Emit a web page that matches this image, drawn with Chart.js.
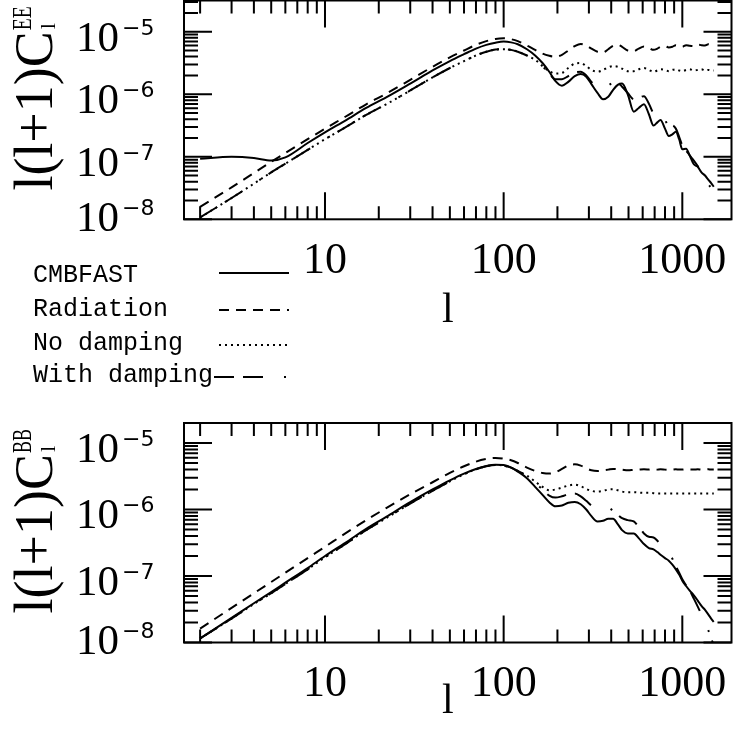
<!DOCTYPE html>
<html><head><meta charset="utf-8">
<script src="https://cdn.jsdelivr.net/npm/chart.js@4.4.0/dist/chart.umd.min.js"></script>
<style>
html,body{margin:0;padding:0;background:#fff;}
#wrap{position:relative;width:734px;height:730px;background:#fff;overflow:hidden;}
canvas{position:absolute;left:0;}
#cEE{top:0;} #cBB{top:420px;}
</style></head><body>
<div id="wrap"><canvas id="cEE" width="734" height="420"></canvas><canvas id="cBB" width="734" height="310"></canvas></div>
<script>
// ---------------- data ----------------
const ell = [2,3,4,5,6,8,10,13,17,22,30,40,50,60,70,80,90,100,110,120,135,150,165,180,195,212,230,250,270,290,310,335,360,385,410,435,460,495,535,570,610,650,690,725,755,800,840,880,920,960,1000,1050,1100,1160,1220,1280,1340,1400,1450,1500];

const seriesNames = ['CMBFAST','Radiation','No damping','With damping'];

const eeCMBFAST = [9.33e-8,1.00e-7,9.55e-8,8.71e-8,9.77e-8,1.66e-7,2.46e-7,3.80e-7,6.03e-7,8.91e-7,
 1.48e-6,2.40e-6,3.39e-6,4.37e-6,5.37e-6,6.17e-6,6.68e-6,6.95e-6,6.76e-6,6.31e-6,
 5.25e-6,4.17e-6,3.16e-6,2.29e-6,1.62e-6,1.37e-6,1.58e-6,1.95e-6,2.11e-6,1.91e-6,
 1.45e-6,1.05e-6,8.32e-7,9.12e-7,1.18e-6,1.41e-6,1.48e-6,1.00e-6,5.25e-7,6.03e-7,
 6.92e-7,4.79e-7,3.16e-7,3.55e-7,3.89e-7,2.82e-7,2.14e-7,2.29e-7,2.51e-7,1.91e-7,
 1.32e-7,1.35e-7,1.05e-7,7.59e-8,6.92e-8,5.62e-8,5.01e-8,4.27e-8,3.80e-8,3.31e-8];

const eeRadiation = [1.58e-8,3.24e-8,5.50e-8,8.32e-8,1.15e-7,1.91e-7,2.82e-7,4.37e-7,6.92e-7,1.02e-6,
 1.70e-6,2.75e-6,3.89e-6,5.01e-6,6.17e-6,7.08e-6,7.67e-6,7.85e-6,7.59e-6,7.08e-6,
 6.03e-6,5.13e-6,4.47e-6,4.12e-6,3.98e-6,4.27e-6,5.01e-6,5.89e-6,6.38e-6,6.03e-6,
 5.37e-6,4.79e-6,4.68e-6,5.25e-6,5.96e-6,6.17e-6,5.75e-6,5.01e-6,4.90e-6,5.37e-6,
 5.82e-6,5.50e-6,5.13e-6,5.37e-6,5.75e-6,5.89e-6,5.62e-6,5.75e-6,6.10e-6,5.82e-6,
 5.75e-6,6.10e-6,5.96e-6,5.89e-6,6.24e-6,6.10e-6,6.03e-6,6.31e-6,6.17e-6,6.24e-6];

const eeNoDamping = [1.07e-8,2.19e-8,3.72e-8,5.62e-8,7.76e-8,1.29e-7,1.91e-7,2.95e-7,4.68e-7,6.92e-7,
 1.15e-6,1.86e-6,2.63e-6,3.39e-6,4.17e-6,4.79e-6,5.19e-6,5.25e-6,5.13e-6,4.79e-6,
 4.17e-6,3.55e-6,2.82e-6,2.34e-6,2.14e-6,2.19e-6,2.63e-6,3.09e-6,3.16e-6,2.82e-6,
 2.45e-6,2.29e-6,2.45e-6,2.69e-6,2.82e-6,2.75e-6,2.57e-6,2.34e-6,2.34e-6,2.51e-6,
 2.63e-6,2.45e-6,2.29e-6,2.40e-6,2.51e-6,2.45e-6,2.34e-6,2.45e-6,2.51e-6,2.40e-6,
 2.34e-6,2.45e-6,2.51e-6,2.40e-6,2.45e-6,2.51e-6,2.40e-6,2.45e-6,2.40e-6,2.40e-6];

const eeWithDamping = [1.07e-8,2.19e-8,3.72e-8,5.62e-8,7.76e-8,1.29e-7,1.91e-7,2.95e-7,4.68e-7,6.92e-7,
 1.15e-6,1.86e-6,2.63e-6,3.39e-6,4.17e-6,4.79e-6,5.19e-6,5.25e-6,5.13e-6,4.79e-6,
 4.17e-6,3.55e-6,2.82e-6,2.14e-6,1.74e-6,1.74e-6,1.95e-6,2.24e-6,2.29e-6,2.00e-6,
 1.58e-6,1.26e-6,1.20e-6,1.38e-6,1.51e-6,1.51e-6,1.32e-6,1.05e-6,8.32e-7,8.71e-7,
 9.33e-7,7.08e-7,5.13e-7,5.25e-7,5.50e-7,3.98e-7,3.02e-7,3.16e-7,2.82e-7,2.09e-7,
 1.51e-7,1.26e-7,1.05e-7,8.71e-8,7.08e-8,5.62e-8,4.47e-8,3.63e-8,3.16e-8,2.69e-8];

const bbCMBFAST = [1.15e-8,2.34e-8,3.89e-8,5.75e-8,7.94e-8,1.32e-7,2.00e-7,3.16e-7,5.13e-7,7.76e-7,
 1.29e-6,2.00e-6,2.75e-6,3.47e-6,4.07e-6,4.52e-6,4.73e-6,4.68e-6,4.27e-6,3.72e-6,
 2.95e-6,2.19e-6,1.66e-6,1.29e-6,1.12e-6,1.15e-6,1.26e-6,1.30e-6,1.20e-6,1.00e-6,
 7.94e-7,6.61e-7,6.76e-7,7.24e-7,7.24e-7,6.03e-7,4.90e-7,4.37e-7,4.37e-7,3.72e-7,
 3.02e-7,2.63e-7,2.51e-7,2.29e-7,2.09e-7,1.86e-7,1.70e-7,1.48e-7,1.26e-7,1.05e-7,
 8.51e-8,7.08e-8,6.03e-8,5.13e-8,4.27e-8,3.55e-8,3.09e-8,2.63e-8,2.29e-8,2.04e-8];

const bbRadiation = [1.62e-8,3.31e-8,5.50e-8,8.13e-8,1.12e-7,1.86e-7,2.75e-7,4.37e-7,6.92e-7,1.05e-6,
 1.70e-6,2.57e-6,3.55e-6,4.47e-6,5.25e-6,5.75e-6,5.96e-6,5.82e-6,5.50e-6,5.01e-6,
 4.27e-6,3.80e-6,3.55e-6,3.47e-6,3.63e-6,4.07e-6,4.57e-6,4.79e-6,4.57e-6,4.17e-6,
 3.89e-6,3.80e-6,3.89e-6,3.98e-6,4.07e-6,4.03e-6,3.98e-6,3.89e-6,3.94e-6,3.98e-6,
 4.03e-6,3.98e-6,3.94e-6,3.98e-6,4.03e-6,3.98e-6,3.94e-6,3.98e-6,4.03e-6,3.98e-6,
 3.98e-6,4.03e-6,3.98e-6,3.98e-6,4.03e-6,3.98e-6,3.98e-6,4.03e-6,3.98e-6,3.98e-6];

const bbNoDamping = [1.15e-8,2.29e-8,3.80e-8,5.50e-8,7.59e-8,1.26e-7,1.91e-7,3.02e-7,4.90e-7,7.41e-7,
 1.23e-6,1.91e-6,2.66e-6,3.39e-6,4.03e-6,4.47e-6,4.68e-6,4.57e-6,4.27e-6,3.80e-6,
 3.24e-6,2.63e-6,2.19e-6,1.95e-6,2.00e-6,2.14e-6,2.29e-6,2.37e-6,2.24e-6,2.04e-6,
 1.91e-6,1.86e-6,1.91e-6,2.00e-6,2.02e-6,1.95e-6,1.86e-6,1.82e-6,1.82e-6,1.80e-6,
 1.78e-6,1.78e-6,1.76e-6,1.74e-6,1.74e-6,1.74e-6,1.74e-6,1.74e-6,1.74e-6,1.74e-6,
 1.74e-6,1.74e-6,1.74e-6,1.74e-6,1.74e-6,1.74e-6,1.74e-6,1.74e-6,1.74e-6,1.74e-6];

const bbWithDamping = [1.15e-8,2.29e-8,3.80e-8,5.50e-8,7.59e-8,1.26e-7,1.91e-7,3.02e-7,4.90e-7,7.41e-7,
 1.23e-6,1.91e-6,2.66e-6,3.39e-6,4.03e-6,4.47e-6,4.68e-6,4.57e-6,4.27e-6,3.80e-6,
 3.16e-6,2.51e-6,2.00e-6,1.62e-6,1.51e-6,1.58e-6,1.70e-6,1.74e-6,1.58e-6,1.35e-6,
 1.15e-6,1.02e-6,1.02e-6,1.05e-6,9.55e-7,8.32e-7,7.41e-7,6.92e-7,6.61e-7,5.50e-7,
 4.37e-7,3.89e-7,3.80e-7,3.39e-7,2.95e-7,2.51e-7,2.19e-7,1.82e-7,1.41e-7,1.12e-7,
 8.91e-8,7.24e-8,6.03e-8,4.57e-8,3.47e-8,2.63e-8,2.00e-8,1.51e-8,1.17e-8,8.91e-9];

const lRange = [1.625, 1885];
const eeRange = [1e-8, 3.16e-5];
const bbRange = [1e-8, 2e-5];
const xTickValues = [10, 100, 1000];
const xTickLabels = ['10', '100', '1000'];
const yTickExponents = [-8, -7, -6, -5];
const xTitle = 'l';
const eeYTitle = { main: 'l(l+1)C', sub: 'l', sup: 'EE' };
const bbYTitle = { main: 'l(l+1)C', sub: 'l', sup: 'BB' };

// ---------------- styles ----------------
const dashes = [[], [10, 7], [2, 4], [20, 9, 20, 21, 2, 9]];
const SERIF = '"Liberation Serif", "DejaVu Serif", serif';

function makeDatasets(list) {
  return list.map((arr, i) => ({
    label: seriesNames[i],
    data: ell.map((l, k) => ({ x: l, y: arr[k] })),
    borderColor: '#000',
    backgroundColor: '#000',
    borderWidth: 2,
    borderDash: dashes[i],
    pointRadius: 0,
    fill: false,
    cubicInterpolationMode: 'monotone'
  }));
}

const framePlugin = {
  id: 'frame',
  afterDatasetsDraw(chart, args, o) {
    const ctx = chart.ctx, a = chart.chartArea, xs = chart.scales.x, ys = chart.scales.y;
    ctx.save();
    ctx.strokeStyle = '#000'; ctx.fillStyle = '#000';
    ctx.lineWidth = 2; ctx.setLineDash([]); ctx.lineCap = 'butt';
    ctx.beginPath();
    for (let d = 1; d <= 1000; d *= 10) {
      for (let m = 1; m <= 9; m++) {
        const v = m * d;
        if (v < xs.min || v > xs.max) continue;
        const px = xs.getPixelForValue(v);
        const len = m === 1 ? 27 : 13;
        ctx.moveTo(px, a.bottom); ctx.lineTo(px, a.bottom - len);
        ctx.moveTo(px, a.top); ctx.lineTo(px, a.top + len);
      }
    }
    for (let e = -9; e <= -4; e++) {
      for (let m = 1; m <= 9; m++) {
        const v = m * Math.pow(10, e);
        if (v < ys.min * 0.9999 || v > ys.max * 1.0001) continue;
        const py = ys.getPixelForValue(v);
        const len = m === 1 ? 28 : 14;
        ctx.moveTo(a.left, py); ctx.lineTo(a.left + len, py);
        ctx.moveTo(a.right, py); ctx.lineTo(a.right - len, py);
      }
    }
    ctx.stroke();
    ctx.strokeRect(a.left, a.top, a.right - a.left, a.bottom - a.top);

    // x tick labels
    ctx.font = '44px ' + SERIF;
    ctx.textAlign = 'center'; ctx.textBaseline = 'alphabetic';
    xTickValues.forEach((v, i) => {
      ctx.fillText(xTickLabels[i], xs.getPixelForValue(v), a.bottom + 53.5);
    });
    // y tick labels 10^n
    yTickExponents.forEach((e, i) => {
      const py = ys.getPixelForValue(Math.pow(10, e));
      const base = py + (i === 0 ? 11.6 : 18.8);
      ctx.font = '43px ' + SERIF; ctx.textAlign = 'right';
      ctx.fillText('10', a.left - 65, base);
      ctx.font = '22px "DejaVu Sans", sans-serif'; ctx.textAlign = 'left';
      ctx.fillText('\u2212' + Math.abs(e), a.left - 62, base - 16);
    });
    // x title
    ctx.font = '42px ' + SERIF; ctx.textAlign = 'center';
    ctx.fillText(xTitle, (a.left + a.right) / 2 - 10, a.bottom + o.xTitleOffset);
    // y title
    const t = o.yTitle;
    ctx.font = '54px ' + SERIF;
    ctx.textAlign = 'left';
    const w = ctx.measureText(t.main).width;
    const total = w + 24;
    const cy = (a.top + a.bottom) / 2 - 11;
    ctx.translate(52, cy + total / 2);
    ctx.rotate(-Math.PI / 2);
    ctx.fillText(t.main, 0, 0);
    ctx.font = '22px ' + SERIF;
    ctx.fillText(t.sub, w + 2, 3);
    ctx.font = '28px ' + SERIF;
    ctx.fillText(t.sup, w + 1, -21, 24);
    ctx.restore();
  }
};

const legendPlugin = {
  id: 'sideLegend',
  afterDraw(chart, args, o) {
    if (!o.show) return;
    const ctx = chart.ctx;
    const baselines = [282, 316, 349.5, 382];
    const lineYs = [273, 310, 345, 377];
    ctx.save();
    ctx.fillStyle = '#000'; ctx.strokeStyle = '#000';
    ctx.font = '25px "Liberation Mono", "DejaVu Sans Mono", monospace';
    ctx.textAlign = 'left'; ctx.textBaseline = 'alphabetic';
    chart.data.datasets.forEach((ds, i) => {
      ctx.fillText(ds.label, 33, baselines[i]);
      ctx.beginPath();
      ctx.lineWidth = 2; ctx.lineCap = 'butt';
      ctx.setLineDash(ds.borderDash || []);
      ctx.moveTo(i === 3 ? 214 : 219, lineYs[i]);
      ctx.lineTo(289, lineYs[i]);
      ctx.stroke();
    });
    ctx.restore();
  }
};

function makeChart(id, lists, yRange, padding, opts) {
  return new Chart(document.getElementById(id), {
    type: 'line',
    data: { datasets: makeDatasets(lists) },
    options: {
      responsive: false, animation: false, devicePixelRatio: 1,
      layout: { padding: padding },
      scales: {
        x: { type: 'logarithmic', min: lRange[0], max: lRange[1], display: false },
        y: { type: 'logarithmic', min: yRange[0], max: yRange[1], display: false }
      },
      plugins: {
        legend: { display: false }, tooltip: { enabled: false }, title: { display: false },
        frame: opts.frame,
        sideLegend: { show: opts.legend }
      }
    },
    plugins: [framePlugin, legendPlugin]
  });
}

makeChart('cEE', [eeCMBFAST, eeRadiation, eeNoDamping, eeWithDamping], eeRange,
  { left: 184, right: 2.5, top: 0.5, bottom: 200.7 },
  { frame: { xTitleOffset: 102.7, yTitle: eeYTitle }, legend: true });
makeChart('cBB', [bbCMBFAST, bbRadiation, bbNoDamping, bbWithDamping], bbRange,
  { left: 184, right: 2.5, top: 3, bottom: 87.5 },
  { frame: { xTitleOffset: 70.5, yTitle: bbYTitle }, legend: false });
</script>
</body></html>
